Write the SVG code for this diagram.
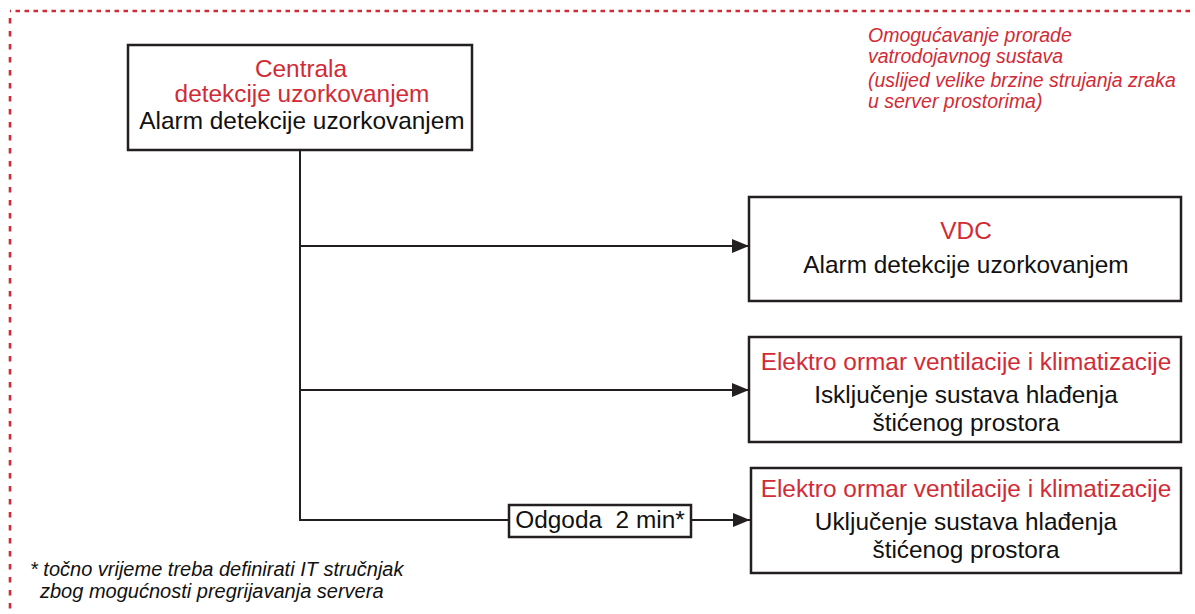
<svg xmlns="http://www.w3.org/2000/svg" width="1195" height="614" viewBox="0 0 1195 614">
  <defs>
    <style>
      .box { fill: #ffffff; stroke: #231f20; stroke-width: 2.5; }
      .t { font-family: "Liberation Sans", Arial, sans-serif; font-size: 24.4px; text-anchor: middle; fill: #111111; }
      .r { fill: #d12b36; }
      .it { font-family: "Liberation Sans", Arial, sans-serif; font-size: 19.5px; font-style: italic; }
      .conn { fill: none; stroke: #231f20; stroke-width: 2; }
      .frame { fill: none; stroke: #d12b36; stroke-width: 2.6; }
    </style>
    <marker id="arrow" markerWidth="17" markerHeight="14" refX="17" refY="7" orient="auto" markerUnits="userSpaceOnUse">
      <path d="M0,0 L17,7 L0,14 Z" fill="#231f20"/>
    </marker>
  </defs>

  <rect width="1195" height="614" fill="#ffffff"/>

  <!-- dashed frame -->
  <g id="frame">
    <path class="frame" d="M1190,11 L10,11" stroke-dasharray="4.5 4.5"/>
    <path class="frame" d="M10,18 L10,614" stroke-dasharray="5.5 7.5"/>
  </g>

  <!-- connectors -->
  <g id="connectors">
    <path class="conn" d="M300,150 L300,520 L509,520"/>
    <path class="conn" d="M300,246 L749,246" marker-end="url(#arrow)"/>
    <path class="conn" d="M300,390 L749,390" marker-end="url(#arrow)"/>
    <path class="conn" d="M691,520 L750,520" marker-end="url(#arrow)"/>
  </g>

  <!-- central node -->
  <g id="centrala">
    <rect class="box" x="128" y="45" width="344" height="105"/>
    <text class="t r" x="301" y="77">Centrala</text>
    <text class="t r" x="302" y="102">detekcije uzorkovanjem</text>
    <text class="t" x="302" y="129">Alarm detekcije uzorkovanjem</text>
  </g>

  <!-- VDC -->
  <g id="vdc">
    <rect class="box" x="749" y="197" width="432" height="104"/>
    <text class="t r" x="966" y="239">VDC</text>
    <text class="t" x="966" y="273">Alarm detekcije uzorkovanjem</text>
  </g>

  <!-- ventilation off -->
  <g id="ventilacija-isk">
    <rect class="box" x="749" y="337" width="432" height="105"/>
    <text class="t r" x="966" y="370">Elektro ormar ventilacije i klimatizacije</text>
    <text class="t" x="966" y="403">Isključenje sustava hlađenja</text>
    <text class="t" x="966" y="431">štićenog prostora</text>
  </g>

  <!-- ventilation on -->
  <g id="ventilacija-ukl">
    <rect class="box" x="751" y="468" width="430" height="105"/>
    <text class="t r" x="966" y="497">Elektro ormar ventilacije i klimatizacije</text>
    <text class="t" x="966" y="530">Uključenje sustava hlađenja</text>
    <text class="t" x="966" y="558">štićenog prostora</text>
  </g>

  <!-- delay -->
  <g id="odgoda">
    <rect class="box" x="509" y="505" width="182" height="32" stroke-width="2"/>
    <text class="t" x="600" y="528" xml:space="preserve">Odgoda  2 min*</text>
  </g>

  <!-- note top right -->
  <g id="napomena" class="it r">
    <text x="868" y="42">Omogućavanje prorade</text>
    <text x="868" y="63">vatrodojavnog sustava</text>
    <text x="868" y="87">(uslijed velike brzine strujanja zraka</text>
    <text x="868" y="108">u server prostorima)</text>
  </g>

  <!-- footnote -->
  <g id="fusnota" class="it" fill="#111111" font-size="20">
    <text x="30" y="576" style="font-size:20px">* točno vrijeme treba definirati IT stručnjak</text>
    <text x="40" y="598" style="font-size:20px">zbog mogućnosti pregrijavanja servera</text>
  </g>
</svg>
